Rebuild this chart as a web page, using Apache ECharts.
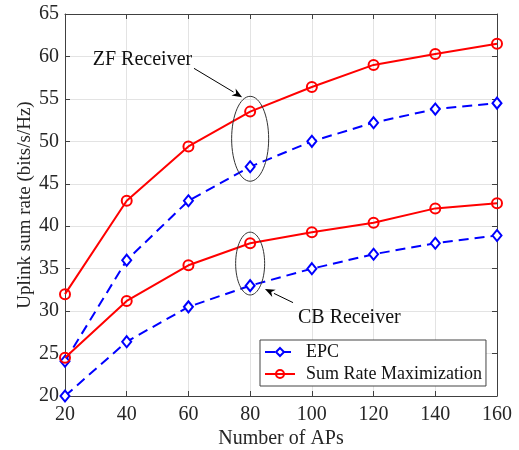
<!DOCTYPE html>
<html>
<head>
<meta charset="utf-8">
<script src="https://cdn.jsdelivr.net/npm/echarts@6/dist/echarts.min.js"></script>
<style>
  html, body { margin: 0; padding: 0; background: #fff; }
  #chart { width: 519px; height: 450px; }
</style>
</head>
<body>
<div id="chart"></div>
<script>
// number of APs
const aps = [20, 40, 60, 80, 100, 120, 140, 160]

// ZF receiver
const zfEpc = [24.1, 36.0, 43.0, 47.0, 50.0, 52.2, 53.8, 54.5]
const zfSrm = [32.0, 43.0, 49.4, 53.5, 56.4, 59.0, 60.3, 61.5]

// CB receiver
const cbEpc = [20.0, 26.4, 30.5, 33.0, 35.0, 36.7, 38.0, 38.9]
const cbSrm = [24.5, 31.2, 35.4, 38.0, 39.3, 40.4, 42.1, 42.7]

// annotations in data units
const zfText = [29, 59.6]
const zfArrow = [[61.8, 58.6], [77.4, 55.2]]
const zfEllipse = { c: [80, 50.3], rx: 6, ry: 5 }
const cbText = [95.5, 29.2]
const cbArrow = [[93.9, 31.0], [84.8, 32.6]]
const cbEllipse = { c: [80, 35.6], rx: 4.7, ry: 3.7 }

const font = 'Liberation Serif, Times New Roman, serif'
const red = '#ff0000'
const blue = '#0000ff'

const pair = (ys) => aps.map((x, i) => [x, ys[i]])

const epcSeries = (name, ys) => ({
  name: name,
  type: 'line',
  data: pair(ys),
  symbol: 'diamond',
  symbolSize: [9, 11],
  lineStyle: { color: blue, width: 2, type: [10, 6] },
  itemStyle: { color: '#fff', borderColor: blue, borderWidth: 2 },
  z: 3
})

const srmSeries = (name, ys) => ({
  name: name,
  type: 'line',
  data: pair(ys),
  symbol: 'circle',
  symbolSize: 10,
  lineStyle: { color: red, width: 2 },
  itemStyle: { color: 'rgba(255,255,255,0)', borderColor: red, borderWidth: 2 },
  z: 4
})

const chart = echarts.init(document.getElementById('chart'))

const axisCommon = {
  axisLine: { show: true, lineStyle: { color: '#404040', width: 1 } },
  axisTick: { show: true, inside: true, length: 5, lineStyle: { color: '#404040' } }
}

const option = {
  animation: false,
  backgroundColor: '#fff',
  grid: { left: 65, right: 22, top: 14, bottom: 54, containLabel: false, outerBoundsMode: 'none' },
  legend: {
    data: ['EPC', 'Sum Rate Maximization'],
    orient: 'vertical',
    left: 260,
    top: 340,
    itemWidth: 30,
    itemHeight: 10,
    itemGap: 4,
    padding: [3, 4, 3, 4],
    backgroundColor: '#fff',
    borderColor: '#444',
    borderWidth: 1,
    borderRadius: 0,
    textStyle: { fontFamily: font, fontSize: 18, color: '#111', padding: [0, 0, 0, 6] }
  },
  xAxis: [
    {
      type: 'value',
      min: 20,
      max: 160,
      interval: 20,
      name: 'Number of APs',
      nameLocation: 'middle',
      nameGap: 33,
      nameMoveOverlap: false,
      nameTextStyle: { fontFamily: font, fontSize: 20, color: '#262626' },
      axisLabel: { fontFamily: font, fontSize: 20, color: '#262626', margin: 9 },
      splitLine: { show: true, lineStyle: { color: '#e3e3e3' } },
      ...axisCommon
    },
    {
      type: 'value',
      position: 'top',
      min: 20,
      max: 160,
      interval: 20,
      axisLabel: { show: false },
      splitLine: { show: false },
      ...axisCommon
    }
  ],
  yAxis: [
    {
      type: 'value',
      min: 20,
      max: 65,
      interval: 5,
      name: 'Uplink sum rate (bits/s/Hz)',
      nameLocation: 'middle',
      nameGap: 30,
      nameMoveOverlap: false,
      nameTextStyle: { fontFamily: font, fontSize: 19, color: '#262626' },
      axisLabel: { fontFamily: font, fontSize: 20, color: '#262626', margin: 6 },
      splitLine: { show: true, lineStyle: { color: '#e3e3e3' } },
      ...axisCommon
    },
    {
      type: 'value',
      position: 'right',
      min: 20,
      max: 65,
      interval: 5,
      axisLabel: { show: false },
      splitLine: { show: false },
      ...axisCommon
    }
  ],
  series: [
    epcSeries('EPC', zfEpc),
    srmSeries('Sum Rate Maximization', zfSrm),
    epcSeries('EPC', cbEpc),
    srmSeries('Sum Rate Maximization', cbSrm)
  ]
}

chart.setOption(option)

// annotations placed through the chart's own scales
const px = (p) => chart.convertToPixel({ xAxisIndex: 0, yAxisIndex: 0 }, p)

const arrow = (from, to) => {
  const a = px(from)
  const b = px(to)
  const dx = b[0] - a[0]
  const dy = b[1] - a[1]
  const len = Math.sqrt(dx * dx + dy * dy)
  const ux = dx / len
  const uy = dy / len
  const hl = 10
  const hw = 4
  const base = [b[0] - ux * hl, b[1] - uy * hl]
  return [
    {
      type: 'line',
      shape: { x1: a[0], y1: a[1], x2: base[0], y2: base[1] },
      style: { stroke: '#000', lineWidth: 1 },
      z: 10
    },
    {
      type: 'polygon',
      shape: {
        points: [
          b,
          [base[0] - uy * hw, base[1] + ux * hw],
          [base[0] + ux * 3, base[1] + uy * 3],
          [base[0] + uy * hw, base[1] - ux * hw]
        ]
      },
      style: { fill: '#000' },
      z: 10
    }
  ]
}

const ellipse = (e) => {
  const c = px(e.c)
  const r = px([e.c[0] + e.rx, e.c[1] + e.ry])
  return {
    type: 'ellipse',
    shape: { cx: c[0], cy: c[1], rx: Math.abs(r[0] - c[0]), ry: Math.abs(r[1] - c[1]) },
    style: { fill: 'none', stroke: '#333', lineWidth: 1 },
    z: 10
  }
}

const label = (p, text) => {
  const q = px(p)
  return {
    type: 'text',
    x: q[0],
    y: q[1],
    style: {
      text: text,
      font: '20px ' + font,
      fill: '#111',
      verticalAlign: 'middle'
    },
    z: 10
  }
}

chart.setOption({
  graphic: [
    label(zfText, 'ZF Receiver'),
    ...arrow(zfArrow[0], zfArrow[1]),
    ellipse(zfEllipse),
    label(cbText, 'CB Receiver'),
    ...arrow(cbArrow[0], cbArrow[1]),
    ellipse(cbEllipse)
  ]
})
</script>
</body>
</html>
